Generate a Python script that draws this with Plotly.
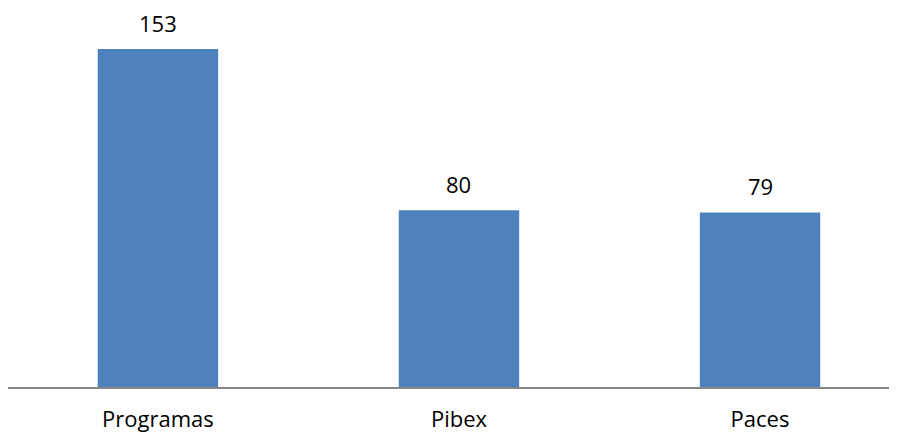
import plotly.graph_objects as go

categories = ["Programas", "Pibex", "Paces"]
values = [153, 80, 79]

fig = go.Figure()
fig.add_trace(go.Bar(
    x=categories, y=values,
    marker=dict(color="#4F81BD", line=dict(width=0)),
    hoverinfo="skip",
))
for c, v in zip(categories, values):
    fig.add_annotation(x=c, y=v, text=str(v), showarrow=False,
                       yanchor="bottom", yshift=10, borderpad=0,
                       font=dict(family="Open Sans", size=22, color="#000000"))

fig.update_layout(
    width=889, height=424,
    margin=dict(l=0, r=0, t=10, b=45),
    paper_bgcolor="white", plot_bgcolor="white",
    bargap=0.6, showlegend=False,
    font=dict(family="Open Sans", size=22, color="#000000"),
    xaxis=dict(range=[-0.498, 2.455], showline=True, linecolor="#868686", linewidth=2,
               ticks="", showgrid=False, zeroline=False, ticklabelstandoff=12,
               tickfont=dict(family="Open Sans", size=22, color="#000000")),
    yaxis=dict(range=[0, 167.0], visible=False, showgrid=False, zeroline=False),
)
fig.write_html("out.html")
